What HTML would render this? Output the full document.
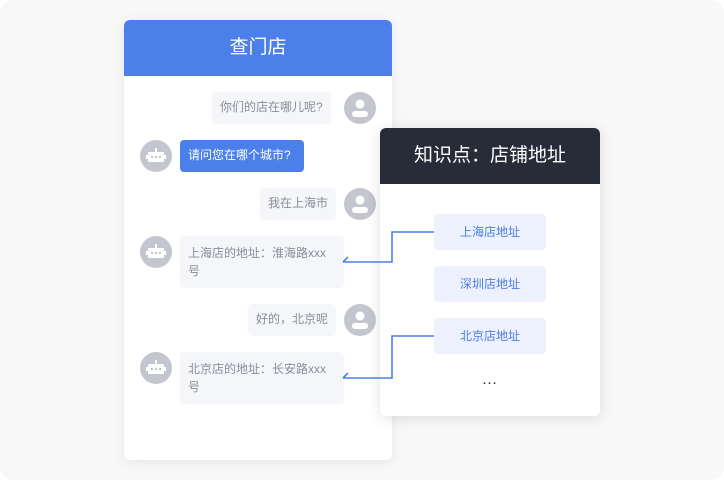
<!DOCTYPE html>
<html><head><meta charset="utf-8"><style>
*{margin:0;padding:0;box-sizing:border-box}
body{width:724px;height:480px;background:#fff;font-family:"Liberation Sans","Noto Sans CJK SC",sans-serif;position:relative;overflow:hidden}
.bg{position:absolute;left:0;top:0;width:724px;height:480px;border-radius:14px;background:#f8f8f9}
.a{position:absolute}
.card{background:#fff;border-radius:6px;box-shadow:0 2px 12px rgba(0,0,0,.08)}
.bub{position:absolute;background:#f5f6fa;border-radius:4px;color:#8a8d96;font-size:12px;line-height:18px;padding:8px 8px}
.av{position:absolute;width:32px;height:32px;border-radius:50%;background:#c3c6ce}
.kb{position:absolute;left:434px;width:112px;height:36px;background:#ecf1fd;border-radius:4px;color:#4a7de8;font-size:12px;text-align:center;line-height:36px}
</style></head><body>
<div class="bg"></div>
<div class="a card" style="left:124px;top:20px;width:268px;height:440px;overflow:hidden">
<div style="height:56px;background:#4b7fe9;color:#fff;font-size:19px;text-align:center;line-height:56px">查门店</div>
</div>
<div class="bub" style="left:212px;top:92px;height:32px;padding:6px 8px">你们的店在哪儿呢?</div>
<div class="av" style="left:344px;top:92px"><svg width="32" height="32"><circle cx="16" cy="12" r="4.5" fill="#fff"/><rect x="8" y="19" width="16" height="6" rx="3" fill="#fff"/></svg></div>
<div class="av" style="left:140px;top:140px"><svg width="32" height="32"><rect x="8" y="12" width="16" height="10" rx="1" fill="#fff"/><rect x="15" y="8" width="2" height="4" fill="#fff"/><rect x="6" y="15" width="2" height="4" fill="#fff"/><rect x="24" y="15" width="2" height="4" fill="#fff"/><circle cx="12" cy="17" r="1.2" fill="#c3c6ce"/><circle cx="16" cy="17" r="1.2" fill="#c3c6ce"/><circle cx="20" cy="17" r="1.2" fill="#c3c6ce"/></svg></div>
<div class="bub" style="left:180px;top:140px;width:124px;height:32px;padding:6px 8px;background:#4b7fe9;color:#fff">请问您在哪个城市?</div>
<div class="bub" style="left:260px;top:188px;height:32px;padding:6px 8px">我在上海市</div>
<div class="av" style="left:344px;top:188px"><svg width="32" height="32"><circle cx="16" cy="12" r="4.5" fill="#fff"/><rect x="8" y="19" width="16" height="6" rx="3" fill="#fff"/></svg></div>
<div class="av" style="left:140px;top:236px"><svg width="32" height="32"><rect x="8" y="12" width="16" height="10" rx="1" fill="#fff"/><rect x="15" y="8" width="2" height="4" fill="#fff"/><rect x="6" y="15" width="2" height="4" fill="#fff"/><rect x="24" y="15" width="2" height="4" fill="#fff"/><circle cx="12" cy="17" r="1.2" fill="#c3c6ce"/><circle cx="16" cy="17" r="1.2" fill="#c3c6ce"/><circle cx="20" cy="17" r="1.2" fill="#c3c6ce"/></svg></div>
<div class="bub" style="left:180px;top:236px;width:164px;height:52px">上海店的地址：淮海路xxx号</div>
<div class="bub" style="left:248px;top:304px;height:32px;padding:6px 8px">好的，北京呢</div>
<div class="av" style="left:344px;top:304px"><svg width="32" height="32"><circle cx="16" cy="12" r="4.5" fill="#fff"/><rect x="8" y="19" width="16" height="6" rx="3" fill="#fff"/></svg></div>
<div class="av" style="left:140px;top:352px"><svg width="32" height="32"><rect x="8" y="12" width="16" height="10" rx="1" fill="#fff"/><rect x="15" y="8" width="2" height="4" fill="#fff"/><rect x="6" y="15" width="2" height="4" fill="#fff"/><rect x="24" y="15" width="2" height="4" fill="#fff"/><circle cx="12" cy="17" r="1.2" fill="#c3c6ce"/><circle cx="16" cy="17" r="1.2" fill="#c3c6ce"/><circle cx="20" cy="17" r="1.2" fill="#c3c6ce"/></svg></div>
<div class="bub" style="left:180px;top:352px;width:164px;height:52px">北京店的地址：长安路xxx号</div>

<div class="a card" style="left:380px;top:128px;width:220px;height:288px;overflow:hidden;box-shadow:0 2px 14px rgba(0,0,0,.12)">
<div style="height:56px;background:#272c38;color:#fff;font-size:19px;text-align:center;line-height:56px">知识点：店铺地址</div>
</div>
<div class="kb" style="top:214px">上海店地址</div>
<div class="kb" style="top:266px">深圳店地址</div>
<div class="kb" style="top:318px">北京店地址</div>
<div class="a" style="left:434px;top:371px;width:112px;text-align:center;color:#333;font-size:16px;letter-spacing:1px">…</div>
<svg class="a" style="left:0;top:0" width="724" height="480"><g fill="none" stroke="#4b7fe9" stroke-width="1.6">
<path d="M434 232H392V262H343"/><path d="M343 262L348 257"/>
<path d="M434 336H392V378H343"/><path d="M343 378L348 373"/></g></svg>
</body></html>
